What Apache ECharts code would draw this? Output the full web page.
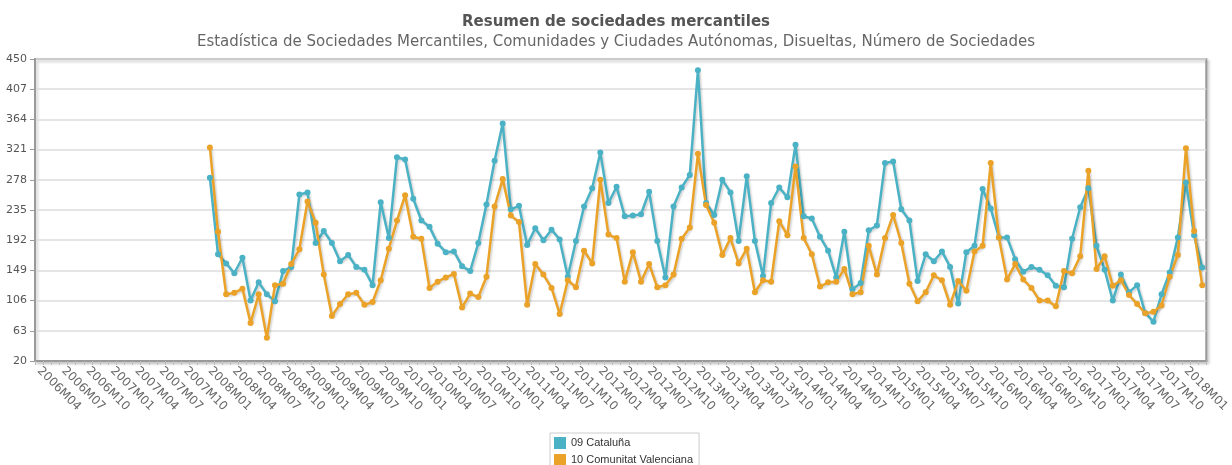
<!DOCTYPE html>
<html>
<head>
<meta charset="utf-8">
<title>Resumen de sociedades mercantiles</title>
<script src="https://cdn.jsdelivr.net/npm/echarts@6/dist/echarts.min.js"></script>
<style>
  html, body { margin: 0; padding: 0; background: #fff; }
  #chart { width: 1232px; height: 465px; }
</style>
</head>
<body>
<div id="chart"></div>
<script>
// meses del eje: 2006M04 .. 2018M03
var meses = [];
for (var a = 2006; a <= 2018; a++) {
  for (var m = 1; m <= 12; m++) {
    if (a === 2006 && m < 4) continue;
    if (a === 2018 && m > 3) break;
    meses.push(a + 'M' + (m < 10 ? '0' + m : m));
  }
}
// los datos empiezan en 2008M01
var primerMes = '2008M01';

var yTicks = [20, 63, 106, 149, 192, 235, 278, 321, 364, 407, 450];

var cataluna = [281, 172, 159, 145, 167, 106, 132, 115, 105, 148, 154, 257,
  260, 188, 205, 188, 162, 171, 154, 150, 128, 246, 195, 310,
  307, 251, 220, 211, 187, 175, 176, 155, 148, 188, 243, 305,
  358, 236, 241, 185, 209, 192, 207, 193, 140, 191, 240, 266,
  317, 245, 268, 226, 227, 229, 261, 191, 139, 240, 267, 285,
  434, 245, 228, 278, 260, 191, 283, 191, 141, 245, 267, 253,
  328, 226, 223, 197, 177, 139, 204, 122, 131, 206, 213, 302,
  304, 236, 220, 134, 172, 162, 176, 154, 102, 175, 184, 265,
  237, 196, 196, 165, 147, 154, 150, 142, 127, 125, 194, 239,
  266, 184, 150, 106, 143, 118, 128, 88, 76, 115, 146, 196,
  274, 199, 153];

var valenciana = [324, 204, 115, 117, 123, 74, 115, 53, 128, 130, 158, 179,
  247, 217, 143, 84, 101, 115, 117, 100, 104, 135, 180, 220,
  256, 197, 194, 124, 133, 139, 144, 96, 116, 111, 140, 240,
  279, 227, 218, 100, 158, 143, 124, 87, 135, 125, 177, 159,
  278, 200, 195, 133, 175, 133, 158, 125, 128, 143, 194, 210,
  315, 242, 217, 171, 195, 159, 180, 118, 135, 133, 219, 199,
  297, 195, 172, 126, 132, 133, 151, 115, 118, 184, 143, 195,
  228, 188, 130, 105, 118, 142, 135, 100, 134, 120, 176, 184,
  302, 196, 136, 158, 136, 124, 106, 106, 98, 148, 145, 169,
  291, 151, 169, 127, 135, 114, 101, 88, 90, 99, 140, 171,
  323, 205, 128];

var chart = echarts.init(document.getElementById('chart'));

// une cada valor con su mes
function conMeses(valores) {
  var inicio = meses.indexOf(primerMes);
  var res = [];
  for (var i = 0; i < valores.length; i++) {
    res.push([meses[inicio + i], valores[i]]);
  }
  return res;
}

function serie(nombre, color, valores) {
  return {
    name: nombre,
    type: 'line',
    data: conMeses(valores),
    symbol: 'circle',
    symbolSize: 6,
    showSymbol: true,
    showAllSymbol: true,
    itemStyle: { color: color },
    lineStyle: {
      width: 2.5,
      color: color,
      shadowColor: 'rgba(0,0,0,0.18)',
      shadowOffsetX: 1.5,
      shadowOffsetY: 1.5,
      shadowBlur: 2
    },
    emphasis: { disabled: true },
    animation: false
  };
}

var option = {
  animation: false,
  title: {
    text: 'Resumen de sociedades mercantiles',
    subtext: 'Estadística de Sociedades Mercantiles, Comunidades y Ciudades Autónomas, Disueltas, Número de Sociedades',
    left: 'center',
    top: 10,
    itemGap: 5,
    textStyle: { fontFamily: 'DejaVu Sans', fontSize: 15, fontWeight: 'bold', color: '#555' },
    subtextStyle: { fontFamily: 'DejaVu Sans', fontSize: 15, color: '#666' }
  },
  legend: {
    orient: 'vertical',
    left: 550,
    top: 433,
    height: 60,
    icon: 'rect',
    itemWidth: 12,
    itemHeight: 12,
    itemGap: 5,
    padding: [4, 6, 4, 4],
    borderColor: '#ccc',
    borderWidth: 1,
    textStyle: { fontFamily: 'Liberation Sans', fontSize: 11, color: '#333' },
    data: ['09 Cataluña', '10 Comunitat Valenciana']
  },
  grid: {
    left: 35,
    right: 16,
    top: 59,
    bottom: 104,
    show: true,
    borderColor: '#999',
    borderWidth: 2,
    shadowColor: 'rgba(0,0,0,0.2)',
    shadowBlur: 3,
    shadowOffsetX: 2,
    shadowOffsetY: 2,
    backgroundColor: '#fff'
  },
  xAxis: {
    type: 'category',
    data: meses,
    boundaryGap: true,
    axisLine: { show: true, lineStyle: { color: '#999', width: 2 } },
    axisTick: { show: true, interval: 0, length: 4, lineStyle: { color: '#bbb' } },
    axisLabel: {
      interval: 2,
      rotate: -45,
      margin: 8,
      fontFamily: 'DejaVu Sans',
      fontSize: 12,
      color: '#666'
    },
    splitLine: { show: false }
  },
  yAxis: {
    type: 'value',
    min: 20,
    max: 450,
    axisLine: { show: true, lineStyle: { color: '#999', width: 2 } },
    axisTick: { show: true, length: 5, customValues: yTicks, lineStyle: { color: '#999' } },
    axisLabel: { customValues: yTicks, fontFamily: 'DejaVu Sans', fontSize: 11, color: '#555', margin: 8 },
    splitLine: { show: true, lineStyle: { color: '#ddd', width: 1.5 } }
  },
  series: [
    serie('09 Cataluña', '#4bb2c5', cataluna),
    serie('10 Comunitat Valenciana', '#eaa228', valenciana)
  ]
};

chart.setOption(option);
</script>
</body>
</html>
